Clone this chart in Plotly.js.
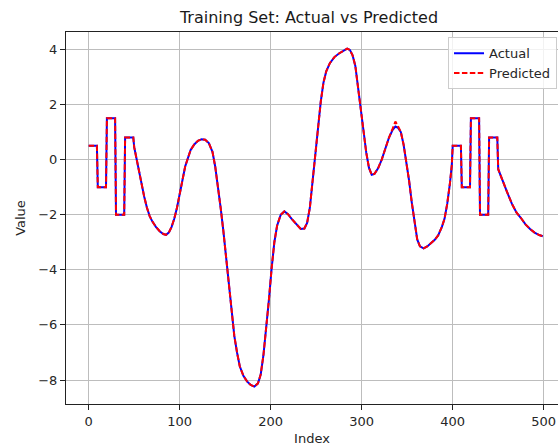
<!DOCTYPE html>
<html>
<head>
<meta charset="utf-8">
<script src="https://cdn.plot.ly/plotly-3.0.1.min.js"></script>
<style>
html,body{margin:0;padding:0;background:#fff;}
#chart{width:558px;height:447px;}
</style>
</head>
<body>
<div id="chart"></div>
<script>
const chartTitle = "Training Set: Actual vs Predicted";
const xLabel = "Index";
const yLabel = "Value";
const seriesNames = ["Actual", "Predicted"];

const idx = [0,9,10,19,20,29,30,39,40,49,
  50,52,55,58,61,64,67,70,74,78,82,85,88,91,94,97,100,103,106,109,112,116,120,124,128,132,136,139,142,145,148,151,154,157,160,163,166,170,174,178,182,186,189,192,195,198,201,204,207,211,215,219,223,228,233,237,240,243,246,249,252,255,258,261,265,270,275,280,284,287,290,293,296,299,302,305,308,311,314,318,322,326,330,334,337,340,343,346,349,352,355,358,361,364,368,372,376,380,384,388,391,394,397,399,
  400,409,410,419,420,429,430,439,440,449,
  450,453,456,460,465,470,475,480,485,490,495,499];

const actual = [0.5,0.5,-1,-1,1.5,1.5,-2,-2,0.8,0.8,
  0.45,0.1,-0.4,-0.9,-1.35,-1.75,-2.05,-2.25,-2.45,-2.6,-2.7,-2.73,-2.65,-2.45,-2.15,-1.75,-1.3,-0.75,-0.25,0.1,0.35,0.55,0.68,0.74,0.72,0.6,0.28,-0.25,-0.95,-1.75,-2.6,-3.55,-4.55,-5.5,-6.4,-7.0,-7.5,-7.85,-8.05,-8.18,-8.24,-8.12,-7.8,-7.1,-6.2,-5.1,-3.95,-3.0,-2.4,-2.0,-1.88,-1.98,-2.15,-2.35,-2.52,-2.5,-2.3,-1.75,-0.8,0.2,1.25,2.1,2.8,3.2,3.5,3.72,3.85,3.95,4.03,3.98,3.78,3.4,2.6,1.8,1.0,0.25,-0.3,-0.55,-0.52,-0.32,0.0,0.42,0.8,1.08,1.2,1.15,1.0,0.55,-0.05,-0.75,-1.55,-2.3,-2.9,-3.15,-3.22,-3.15,-3.05,-2.92,-2.75,-2.45,-2.15,-1.6,-0.85,-0.2,
  0.5,0.5,-1,-1,1.5,1.5,-2,-2,0.8,0.8,
  -0.35,-0.62,-0.9,-1.2,-1.6,-1.92,-2.12,-2.35,-2.52,-2.65,-2.74,-2.78];

const predicted = [0.5,0.5,-1,-1,1.5,1.5,-2,-2,0.8,0.8,
  0.45,0.1,-0.4,-0.9,-1.35,-1.75,-2.05,-2.25,-2.45,-2.6,-2.7,-2.73,-2.65,-2.45,-2.15,-1.75,-1.3,-0.75,-0.25,0.1,0.35,0.55,0.68,0.74,0.72,0.6,0.28,-0.25,-0.95,-1.75,-2.6,-3.55,-4.55,-5.5,-6.4,-7.0,-7.5,-7.85,-8.05,-8.18,-8.24,-8.12,-7.8,-7.1,-6.2,-5.1,-3.95,-3.0,-2.4,-2.0,-1.88,-1.98,-2.15,-2.35,-2.52,-2.5,-2.3,-1.75,-0.8,0.2,1.25,2.1,2.8,3.2,3.5,3.72,3.85,3.95,4.03,3.98,3.78,3.4,2.6,1.8,1.0,0.25,-0.3,-0.55,-0.52,-0.32,0.0,0.42,0.8,1.12,1.38,1.2,1.0,0.55,-0.05,-0.75,-1.55,-2.3,-2.9,-3.15,-3.22,-3.15,-3.05,-2.92,-2.75,-2.45,-2.15,-1.6,-0.85,-0.2,
  0.5,0.5,-1,-1,1.5,1.5,-2,-2,0.8,0.8,
  -0.35,-0.62,-0.9,-1.2,-1.6,-1.92,-2.12,-2.35,-2.52,-2.65,-2.74,-2.78];

const xTicks = [0,100,200,300,400,500];
const yTicks = [-8,-6,-4,-2,0,2,4];

const font = "DejaVu Sans, sans-serif";

const traces = [
  {x: idx, y: actual, name: seriesNames[0], type: "scatter", mode: "lines",
   line: {color: "#0000ff", width: 2}},
  {x: idx, y: predicted, name: seriesNames[1], type: "scatter", mode: "lines",
   line: {color: "#ff0000", width: 2, dash: "5.5px,2.4px"}}
];

const axisCommon = {
  showgrid: true, gridcolor: "#bdbdbd", gridwidth: 1,
  zeroline: false, showline: true, linecolor: "#222", linewidth: 1,
  ticks: "outside", ticklen: 5, tickwidth: 1, tickcolor: "#222",
  tickfont: {family: font, size: 13, color: "#262626"},
  automargin: false
};

const layout = {
  width: 558, height: 447,
  paper_bgcolor: "#fff", plot_bgcolor: "#fff",
  margin: {l: 66, r: 0, t: 32, b: 43},
  font: {family: font, color: "#262626"},
  title: {text: chartTitle, font: {family: font, size: 16, color: "#1a1a1a"},
          x: 0.5538, xref: "container", xanchor: "center", y: 0.962, yref: "container", yanchor: "middle"},
  xaxis: Object.assign({}, axisCommon, {
    range: [-24.95, 515.7], tickvals: xTicks, ticktext: xTicks.map(String),
    mirror: true,
    title: {text: xLabel, font: {family: font, size: 13, color: "#262626"}, standoff: 6}
  }),
  yaxis: Object.assign({}, axisCommon, {
    range: [-8.87, 4.63], tickvals: yTicks,
    title: {text: yLabel, font: {family: font, size: 13, color: "#262626"}, standoff: 9}
  }),
  showlegend: true,
  legend: {
    x: 0.998, xanchor: "right", y: 0.986, yanchor: "top",
    bgcolor: "rgba(255,255,255,0.8)", bordercolor: "#cccccc", borderwidth: 1,
    font: {family: font, size: 13, color: "#262626"},
    tracegroupgap: 0
  }
};

Plotly.newPlot("chart", traces, layout, {displayModeBar: false, staticPlot: true});
</script>
</body>
</html>
